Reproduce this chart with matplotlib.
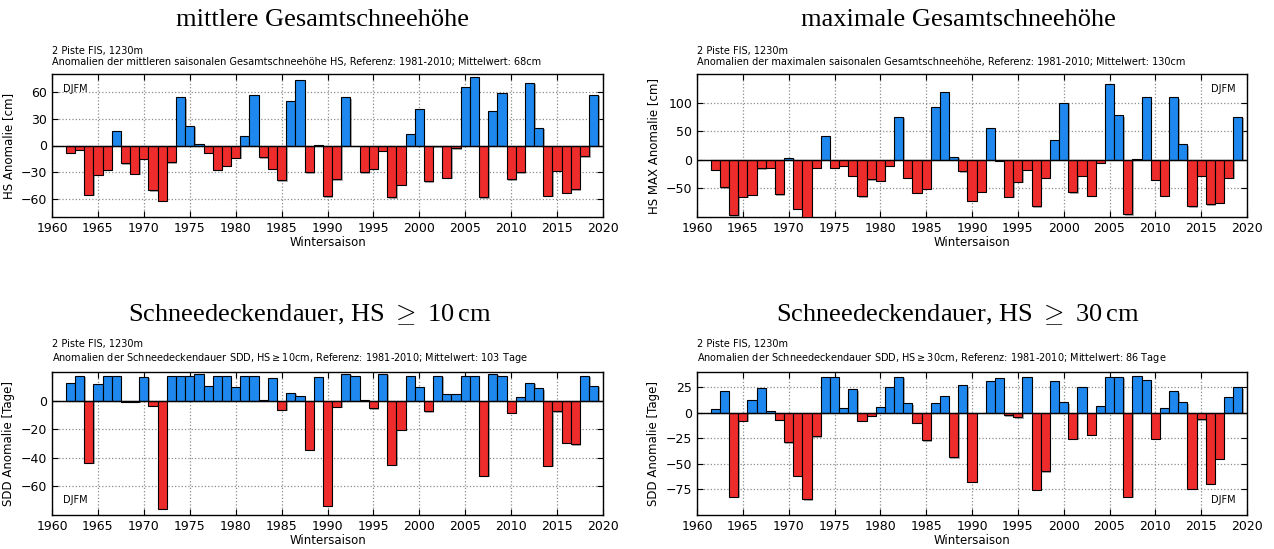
import matplotlib
matplotlib.use("Agg")
import matplotlib.pyplot as plt
import matplotlib.patheffects as pe
import numpy as np

years = list(range(1962, 2020))

hs_mean = [-8, -5, -55, -33, -27, 16, -20, -32, -15, -50, -62, -19, 54, 22, 2, -8,
           -27, -23, -14, 11, 56, -13, -26, -39, 50, 73, -30, 1, -57, -38, 54, 0,
           -30, -26, -6, -58, -44, 13, 41, -40, -1, -36, -3, 66, 77, -58, 39, 59,
           -38, -30, 70, 20, -56, -28, -53, -49, -12, 57]

hs_max = [-17, -48, -97, -65, -61, -15, -14, -60, 4, -86, -100, -14, 41, -14, -11, -28,
          -64, -34, -37, -11, 75, -32, -58, -51, 92, 118, 5, -20, -72, -56, 55, -2,
          -65, -38, -18, -81, -31, 34, 100, -57, -28, -63, -5, 133, 78, -95, 2, 109,
          -35, -63, 109, 27, -81, -28, -78, -75, -32, 75]

sdd10 = [12.5, 17.4, -43.5, 11.5, 17.4, 17.4, -0.7, -0.7, 16.7, -3.5, -75.8, 17.4, 17.4,
         17.4, 18.6, 10.4, 17.4, 17.4, 9.4, 17.4, 17.4, 0.5, 15.5, -6.6, 5.6, 3.5, -34.4,
         16.5, -73.6, -4.5, 18.6, 17.4, 0.5, -5.4, 18.6, -44.7, -20.5, 17.4, 9.4, -7.5,
         17.4, 4.5, 4.5, 17.4, 17.4, -52.7, 18.6, 17.4, -8.5, 2.4, 12.5, 8.5, -45.6, -7.5,
         -29.4, -30.6, 17.4, 10.4]

sdd30 = [4.2, 21.2, -82.4, -7.5, 12.1, 24.8, 2.3, -6.9, -28.8, -61.4, -84.6, -22.9, 35,
         35, 5.2, 23.2, -7.8, -2.6, 6.2, 25.8, 35, 9.5, -9.8, -26.8, 9.5, 16.3, -43.5,
         27.1, -67.3, 0.3, 31, 33.7, -2.3, -4.2, 35, -75.2, -57.2, 31, 10.5, -25.5, 25.8,
         -21.6, 7.2, 35, 35, -82.4, 36, 32, -25.5, 5.2, 21.2, 10.5, -74.2, -6.2, -69.3,
         -45.1, 15.4, 25.2]

titles = ["mittlere Gesamtschneehöhe", "maximale Gesamtschneehöhe",
          r"Schneedeckendauer, HS $\geq$ 10$\,$cm", r"Schneedeckendauer, HS $\geq$ 30$\,$cm"]
subtitles = [
    "2 Piste FIS, 1230m\nAnomalien der mittleren saisonalen Gesamtschneehöhe HS, Referenz: 1981-2010; Mittelwert: 68cm",
    "2 Piste FIS, 1230m\nAnomalien der maximalen saisonalen Gesamtschneehöhe, Referenz: 1981-2010; Mittelwert: 130cm",
    "2 Piste FIS, 1230m\nAnomalien der Schneedeckendauer SDD, HS$\\geq$10cm, Referenz: 1981-2010; Mittelwert: 103 Tage",
    "2 Piste FIS, 1230m\nAnomalien der Schneedeckendauer SDD, HS$\\geq$30cm, Referenz: 1981-2010; Mittelwert: 86 Tage",
]
ylabels = ["HS Anomalie [cm]", "HS MAX Anomalie [cm]", "SDD Anomalie [Tage]", "SDD Anomalie [Tage]"]
series = [hs_mean, hs_max, sdd10, sdd30]
ylims = [(-80, 80), (-100, 150), (-80, 20), (-100, 40)]
yticks = [[-60, -30, 0, 30, 60], [-50, 0, 50, 100], [-60, -40, -20, 0], [-75, -50, -25, 0, 25]]
djfm_pos = [(0.02, 0.93, 'left', 'top'), (0.98, 0.93, 'right', 'top'),
            (0.02, 0.07, 'left', 'bottom'), (0.98, 0.07, 'right', 'bottom')]

W, H = 1274, 549
fig = plt.figure(figsize=(W / 100, H / 100), dpi=100)

# axes boxes in pixels: left, top, right, bottom
boxes = [(52, 74, 603, 217), (697, 74, 1247, 217), (52, 372, 603, 515), (697, 372, 1247, 515)]
title_pos = [(323, 20), (958, 20), (310, 315), (958, 315)]

blue = '#1e88ee'
red = '#ee2c2c'

for i in range(4):
    l, t, r, b = boxes[i]
    ax = fig.add_axes([l / W, 1 - b / H, (r - l) / W, (b - t) / H])
    vals = np.array(series[i], dtype=float)
    cols = [blue if v >= 0 else red for v in vals]
    bars = ax.bar(years, vals, width=1.0, color=cols, edgecolor='black', linewidth=0.8,
                  zorder=3)
    for bar in bars:
        bar.set_path_effects([pe.SimplePatchShadow(offset=(1, -1), shadow_rgbFace='0.45', alpha=0.6),
                              pe.Normal()])
    ax.axhline(0, color='black', linewidth=1.0, zorder=4)
    ax.set_xlim(1960, 2020)
    ax.set_ylim(*ylims[i])
    ax.set_xticks(range(1960, 2021, 5))
    ax.set_yticks(yticks[i])
    ax.set_yticklabels([f"{v}".replace('-', '\u2212') for v in yticks[i]])
    ax.grid(True, linestyle=':', color='0.55', linewidth=0.9, zorder=0)
    ax.set_axisbelow(True)
    ax.tick_params(direction='in', top=True, right=True, labelsize=9, length=4, width=0.8)
    for s in ax.spines.values():
        s.set_linewidth(1.0)
    ax.set_xlabel("Wintersaison", fontsize=8.5, labelpad=1)
    ax.set_ylabel(ylabels[i], fontsize=8.5, labelpad=4)
    x, y, ha, va = djfm_pos[i]
    ax.text(x, y, "DJFM", transform=ax.transAxes, ha=ha, va=va, fontsize=7)
    ax.text(0.0, 1.05, subtitles[i], transform=ax.transAxes, ha='left', va='bottom',
            fontsize=7, linespacing=1.15)
    tx, ty = title_pos[i]
    fig.text(tx / W, 1 - ty / H, titles[i], ha='center', va='center',
             fontsize=19, family='Liberation Serif', math_fontfamily='cm')

fig.savefig("out.png", dpi=100, facecolor='white')
